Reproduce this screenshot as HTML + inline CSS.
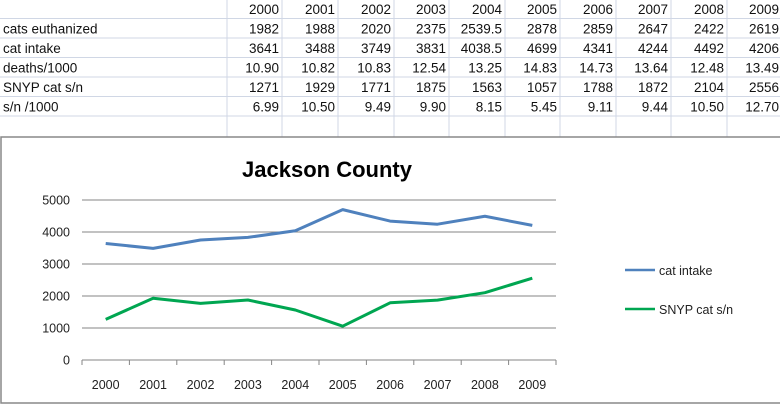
<!DOCTYPE html>
<html><head><meta charset="utf-8"><style>
body{margin:0;width:780px;height:404px;background:#fff;overflow:hidden;font-family:"Liberation Sans",sans-serif;}
</style></head><body>
<svg width="780" height="404">
<g id="table" font-size="13.5" fill="#111"></g>
<rect x="1" y="137" width="800" height="266" fill="#fff" stroke="#888" stroke-width="1.5"/>
<text x="327" y="177" text-anchor="middle" font-size="22" font-weight="bold" fill="#000">Jackson County</text>
<g id="chart"></g>
<g font-size="12.5" fill="#222">
<line x1="625" y1="270" x2="655" y2="270" stroke="#4f81bd" stroke-width="2.5"/>
<text x="659" y="275">cat intake</text>
<line x1="625" y1="309" x2="655" y2="309" stroke="#00a651" stroke-width="2.5"/>
<text x="659" y="314">SNYP cat s/n</text>
</g>
</svg>
<script>
const years=["2000","2001","2002","2003","2004","2005","2006","2007","2008","2009"];
const rowLabels=["cats euthanized","cat intake","deaths/1000","SNYP cat s/n","s/n /1000"];
const euthanized=["1982","1988","2020","2375","2539.5","2878","2859","2647","2422","2619"];
const intakeTxt=["3641","3488","3749","3831","4038.5","4699","4341","4244","4492","4206"];
const deathsPer=["10.90","10.82","10.83","12.54","13.25","14.83","14.73","13.64","12.48","13.49"];
const snypTxt=["1271","1929","1771","1875","1563","1057","1788","1872","2104","2556"];
const snPer=["6.99","10.50","9.49","9.90","8.15","5.45","9.11","9.44","10.50","12.70"];
const intake=[3641,3488,3749,3831,4038.5,4699,4341,4244,4492,4206];
const snyp=[1271,1929,1771,1875,1563,1057,1788,1872,2104,2556];
const yTicks=[0,1000,2000,3000,4000,5000];
const NS="http://www.w3.org/2000/svg";
function mk(t,a,p){const e=document.createElementNS(NS,t);for(const k in a)e.setAttribute(k,a[k]);p.appendChild(e);return e;}
const tb=document.getElementById('table');
const colB=[227,282,338,394,449,505,560,616,671,727,782];
const rowH=19.5;
for(let r=1;r<=6;r++){const l=mk('line',{x1:0,x2:780,y1:r*rowH-1,y2:r*rowH-1,stroke:'#d0d7e5'},tb);

}
colB.forEach(x=>{const l=mk('line',{x1:x,x2:x,y1:0,y2:137,stroke:'#d0d7e5'},tb);

});
const rows=[years,euthanized,intakeTxt,deathsPer,snypTxt,snPer];
rows.forEach((row,r)=>{
 if(r>0){const t=mk('text',{x:3,y:r*rowH+14},tb);t.textContent=rowLabels[r-1];
 
 }
 row.forEach((v,c)=>{const t=mk('text',{x:colB[c+1]-3,y:r*rowH+14,'text-anchor':'end'},tb);t.textContent=v;
 
 });
});
const g=document.getElementById('chart');
const L=82,R=556,Y0=360,Y1=200,maxV=5000;
const sx=i=>L+(R-L)/years.length*(i+0.5);
const sy=v=>Y0-(v/maxV)*(Y0-Y1);
yTicks.forEach(v=>{
 if(v>0){const l=mk('line',{x1:L,x2:R,y1:sy(v),y2:sy(v),stroke:'#868686'},g);
 
 }
 const t=mk('text',{x:L-12,y:sy(v)+4.5,'text-anchor':'end','font-size':'12.5',fill:'#222'},g);t.textContent=v;
 
 
});
const ax=mk('line',{x1:L,x2:R,y1:Y0,y2:Y0,stroke:'#868686'},g);


for(let i=0;i<=years.length;i++){const x=L+(R-L)/years.length*i;const l=mk('line',{x1:x,x2:x,y1:Y0,y2:Y0+5,stroke:'#868686'},g);
 
 }
years.forEach((y,i)=>{const t=mk('text',{x:sx(i),y:Y0+29,'text-anchor':'middle','font-size':'12.5',fill:'#222'},g);t.textContent=y;
 
 });
function series(d,col,name){const p=mk('polyline',{points:d.map((v,i)=>sx(i)+','+sy(v)).join(' '),fill:'none',stroke:col,'stroke-width':3,'stroke-linejoin':'round'},g);
 
 }
series(intake,'#4f81bd','cat-intake-line');
series(snyp,'#00a651','snyp-line');
</script>
</body></html>
